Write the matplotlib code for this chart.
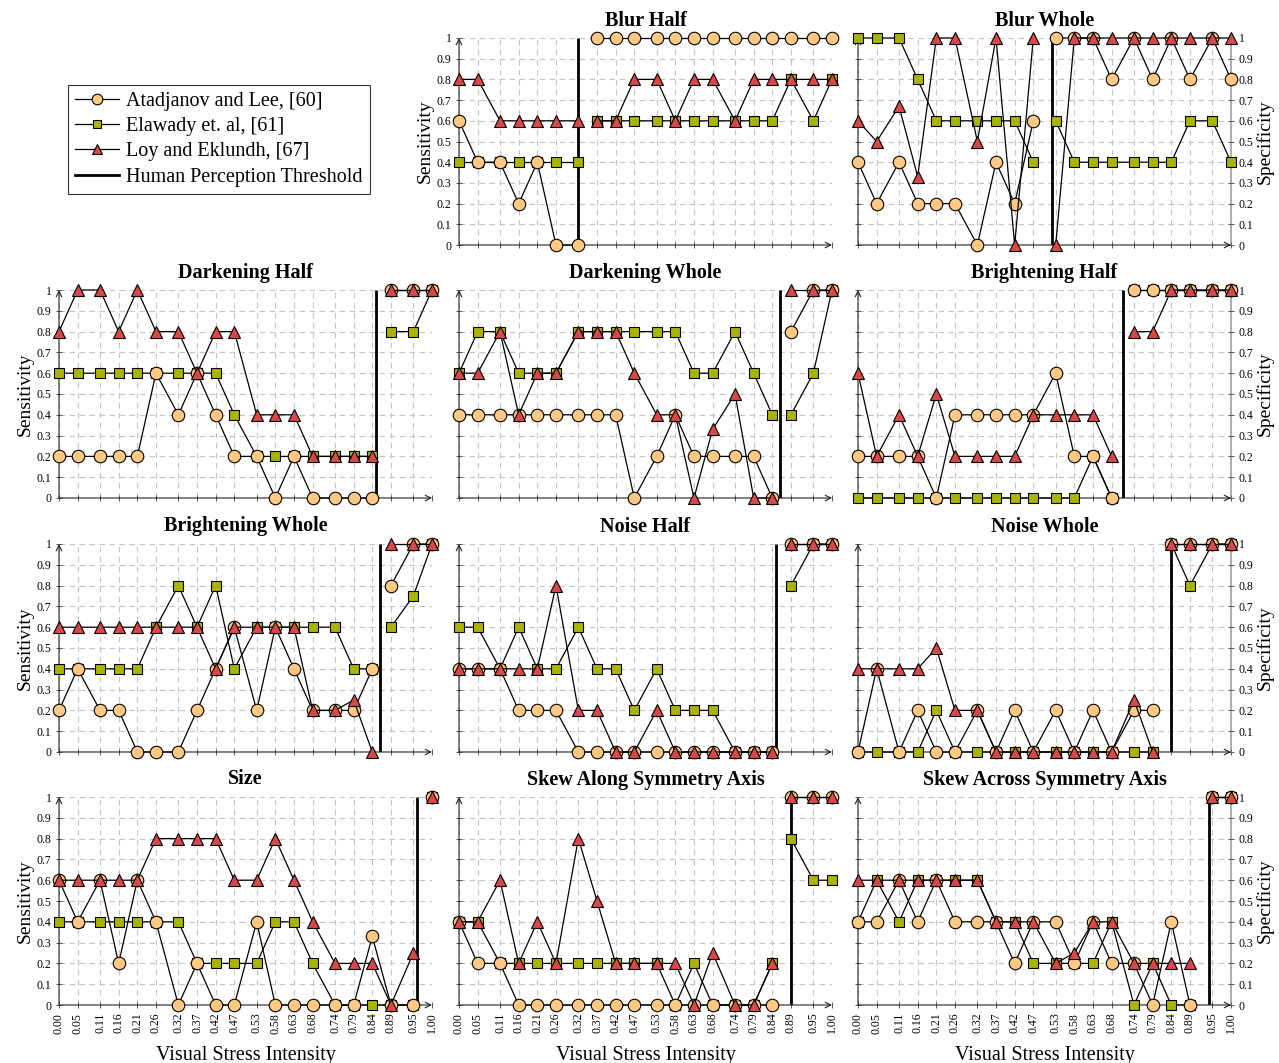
import matplotlib
matplotlib.use("Agg")
import matplotlib.pyplot as plt
from matplotlib.lines import Line2D

plt.rcParams['font.family'] = ['Liberation Serif', 'DejaVu Serif']

# stress intensities (x positions and tick labels)
intensity = [0.00, 0.05, 0.11, 0.16, 0.21, 0.26, 0.32, 0.37, 0.42, 0.47,
             0.53, 0.58, 0.63, 0.68, 0.74, 0.79, 0.84, 0.89, 0.95, 1.00]
y_ticks = [0, 0.1, 0.2, 0.3, 0.4, 0.5, 0.6, 0.7, 0.8, 0.9, 1]
y_tick_labels = ['0', '0.1', '0.2', '0.3', '0.4', '0.5', '0.6', '0.7', '0.8', '0.9', '1']

method_names = ['Atadjanov and Lee, [60]', 'Elawady et. al, [61]', 'Loy and Eklundh, [67]']

# values left of the split are sensitivity, right of it specificity
blur_half_atad = [0.6, 0.4, 0.4, 0.2, 0.4, 0, 0, 1, 1, 1, 1, 1, 1, 1, 1, 1, 1, 1, 1, 1]
blur_half_elaw = [0.4, 0.4, 0.4, 0.4, 0.4, 0.4, 0.4, 0.6, 0.6, 0.6, 0.6, 0.6, 0.6, 0.6, 0.6, 0.6, 0.6, 0.8, 0.6, 0.8]
blur_half_loy = [0.8, 0.8, 0.6, 0.6, 0.6, 0.6, 0.6, 0.6, 0.6, 0.8, 0.8, 0.6, 0.8, 0.8, 0.6, 0.8, 0.8, 0.8, 0.8, 0.8]

blur_whole_atad = [0.4, 0.2, 0.4, 0.2, 0.2, 0.2, 0, 0.4, 0.2, 0.6, 1, 1, 1, 0.8, 1, 0.8, 1, 0.8, 1, 0.8]
blur_whole_elaw = [1, 1, 1, 0.8, 0.6, 0.6, 0.6, 0.6, 0.6, 0.4, 0.6, 0.4, 0.4, 0.4, 0.4, 0.4, 0.4, 0.6, 0.6, 0.4]
blur_whole_loy = [0.6, 0.5, 0.67, 0.33, 1, 1, 0.5, 1, 0, 1, 0, 1, 1, 1, 1, 1, 1, 1, 1, 1]

dark_half_atad = [0.2, 0.2, 0.2, 0.2, 0.2, 0.6, 0.4, 0.6, 0.4, 0.2, 0.2, 0, 0.2, 0, 0, 0, 0, 1, 1, 1]
dark_half_elaw = [0.6, 0.6, 0.6, 0.6, 0.6, 0.6, 0.6, 0.6, 0.6, 0.4, 0.2, 0.2, 0.2, 0.2, 0.2, 0.2, 0.2, 0.8, 0.8, 1]
dark_half_loy = [0.8, 1, 1, 0.8, 1, 0.8, 0.8, 0.6, 0.8, 0.8, 0.4, 0.4, 0.4, 0.2, 0.2, 0.2, 0.2, 1, 1, 1]

dark_whole_atad = [0.4, 0.4, 0.4, 0.4, 0.4, 0.4, 0.4, 0.4, 0.4, 0, 0.2, 0.4, 0.2, 0.2, 0.2, 0.2, 0, 0.8, 1, 1]
dark_whole_elaw = [0.6, 0.8, 0.8, 0.6, 0.6, 0.6, 0.8, 0.8, 0.8, 0.8, 0.8, 0.8, 0.6, 0.6, 0.8, 0.6, 0.4, 0.4, 0.6, 1]
dark_whole_loy = [0.6, 0.6, 0.8, 0.4, 0.6, 0.6, 0.8, 0.8, 0.8, 0.6, 0.4, 0.4, 0, 0.33, 0.5, 0, 0, 1, 1, 1]

bright_half_atad = [0.2, 0.2, 0.2, 0.2, 0, 0.4, 0.4, 0.4, 0.4, 0.4, 0.6, 0.2, 0.2, 0, 1, 1, 1, 1, 1, 1]
bright_half_elaw = [0, 0, 0, 0, 0, 0, 0, 0, 0, 0, 0, 0, 0.2, 0, 1, 1, 1, 1, 1, 1]
bright_half_loy = [0.6, 0.2, 0.4, 0.2, 0.5, 0.2, 0.2, 0.2, 0.2, 0.4, 0.4, 0.4, 0.4, 0.2, 0.8, 0.8, 1, 1, 1, 1]

bright_whole_atad = [0.2, 0.4, 0.2, 0.2, 0, 0, 0, 0.2, 0.4, 0.6, 0.2, 0.6, 0.4, 0.2, 0.2, 0.2, 0.4, 0.8, 1, 1]
bright_whole_elaw = [0.4, 0.4, 0.4, 0.4, 0.4, 0.6, 0.8, 0.6, 0.8, 0.4, 0.6, 0.6, 0.6, 0.6, 0.6, 0.4, 0.4, 0.6, 0.75, 1]
bright_whole_loy = [0.6, 0.6, 0.6, 0.6, 0.6, 0.6, 0.6, 0.6, 0.4, 0.6, 0.6, 0.6, 0.6, 0.2, 0.2, 0.25, 0, 1, 1, 1]

noise_half_atad = [0.4, 0.4, 0.4, 0.2, 0.2, 0.2, 0, 0, 0, 0, 0, 0, 0, 0, 0, 0, 0, 1, 1, 1]
noise_half_elaw = [0.6, 0.6, 0.4, 0.6, 0.4, 0.4, 0.6, 0.4, 0.4, 0.2, 0.4, 0.2, 0.2, 0.2, 0, 0, 0, 0.8, 1, 1]
noise_half_loy = [0.4, 0.4, 0.4, 0.4, 0.4, 0.8, 0.2, 0.2, 0, 0, 0.2, 0, 0, 0, 0, 0, 0, 1, 1, 1]

noise_whole_atad = [0, 0.4, 0, 0.2, 0, 0, 0.2, 0, 0.2, 0, 0.2, 0, 0.2, 0, 0.2, 0.2, 1, 1, 1, 1]
noise_whole_elaw = [0, 0, 0, 0, 0.2, 0, 0, 0, 0, 0, 0, 0, 0, 0, 0, 0, 1, 0.8, 1, 1]
noise_whole_loy = [0.4, 0.4, 0.4, 0.4, 0.5, 0.2, 0.2, 0, 0, 0, 0, 0, 0, 0, 0.25, 0, 1, 1, 1, 1]

size_atad = [0.6, 0.4, 0.6, 0.2, 0.6, 0.4, 0, 0.2, 0, 0, 0.4, 0, 0, 0, 0, 0, 0.33, 0, 0, 1]
size_elaw = [0.4, 0.4, 0.4, 0.4, 0.4, 0.4, 0.4, 0.2, 0.2, 0.2, 0.2, 0.4, 0.4, 0.2, 0, 0, 0, 0, 0, 1]
size_loy = [0.6, 0.6, 0.6, 0.6, 0.6, 0.8, 0.8, 0.8, 0.8, 0.6, 0.6, 0.8, 0.6, 0.4, 0.2, 0.2, 0.2, 0, 0.25, 1]

skew_along_atad = [0.4, 0.2, 0.2, 0, 0, 0, 0, 0, 0, 0, 0, 0, 0, 0, 0, 0, 0, 1, 1, 1]
skew_along_elaw = [0.4, 0.4, 0.2, 0.2, 0.2, 0.2, 0.2, 0.2, 0.2, 0.2, 0.2, 0, 0.2, 0, 0, 0, 0.2, 0.8, 0.6, 0.6]
skew_along_loy = [0.4, 0.4, 0.6, 0.2, 0.4, 0.2, 0.8, 0.5, 0.2, 0.2, 0.2, 0.2, 0, 0.25, 0, 0, 0.2, 1, 1, 1]

skew_across_atad = [0.4, 0.4, 0.6, 0.4, 0.6, 0.4, 0.4, 0.4, 0.2, 0.4, 0.4, 0.2, 0.4, 0.2, 0.2, 0, 0.4, 0, 1, 1]
skew_across_elaw = [0.4, 0.6, 0.4, 0.6, 0.6, 0.6, 0.6, 0.4, 0.4, 0.2, 0.2, 0.2, 0.2, 0.4, 0, 0.2, 0, 0, 1, 1]
skew_across_loy = [0.6, 0.6, 0.6, 0.6, 0.6, 0.6, 0.6, 0.4, 0.4, 0.4, 0.2, 0.25, 0.4, 0.4, 0.2, 0.2, 0.2, 0.2, 1, 1]

# (row, col, title, series, number of sensitivity points, threshold)
panels = [
    (0, 1, 'Blur Half', (blur_half_atad, blur_half_elaw, blur_half_loy), 7, 0.32),
    (0, 2, 'Blur Whole', (blur_whole_atad, blur_whole_elaw, blur_whole_loy), 10, 0.52),
    (1, 0, 'Darkening Half', (dark_half_atad, dark_half_elaw, dark_half_loy), 17, 0.85),
    (1, 1, 'Darkening Whole', (dark_whole_atad, dark_whole_elaw, dark_whole_loy), 17, 0.86),
    (1, 2, 'Brightening Half', (bright_half_atad, bright_half_elaw, bright_half_loy), 14, 0.71),
    (2, 0, 'Brightening Whole', (bright_whole_atad, bright_whole_elaw, bright_whole_loy), 17, 0.86),
    (2, 1, 'Noise Half', (noise_half_atad, noise_half_elaw, noise_half_loy), 17, 0.85),
    (2, 2, 'Noise Whole', (noise_whole_atad, noise_whole_elaw, noise_whole_loy), 16, 0.84),
    (3, 0, 'Size', (size_atad, size_elaw, size_loy), 19, 0.96),
    (3, 1, 'Skew Along Symmetry Axis', (skew_along_atad, skew_along_elaw, skew_along_loy), 17, 0.89),
    (3, 2, 'Skew Across Symmetry Axis', (skew_across_atad, skew_across_elaw, skew_across_loy), 18, 0.94),
]

# marker styles per method: marker, face colour, size, zorder
styles = [
    ('o', '#FFC983', 9.0, 4),
    ('s', '#AAB300', 6.5, 3),
    ('^', '#D94848', 9.0, 5),
]

W, H = 1279, 1063
fig = plt.figure(figsize=(W / 100, H / 100), dpi=100)

col_px = [(59, 432), (459, 832), (858, 1231)]
row_px = [(38, 245), (290, 498), (544, 752), (797, 1005)]


def draw_panel(ax, title, series, split, thr, left_labels, right_labels, bottom_labels):
    ax.set_xlim(0, 1)
    ax.set_ylim(0, 1)
    for s in ax.spines.values():
        s.set_visible(False)

    ax.set_xticks(intensity)
    ax.set_yticks(y_ticks)
    ax.grid(True, color='#C4C4C4', linestyle=(0, (5, 4)), linewidth=0.8)
    ax.set_axisbelow(True)

    # axis lines with arrow heads
    arrow = dict(arrowstyle='->', lw=0.8, color='#222222', shrinkA=0, shrinkB=0)
    ax.annotate('', xy=(1.0, 0), xytext=(0, 0), xycoords='axes fraction', arrowprops=arrow)
    ax.annotate('', xy=(0, 1.0), xytext=(0, 0), xycoords='axes fraction', arrowprops=arrow)
    if right_labels:
        arrow_r = dict(arrow, color='#707070')
        ax.annotate('', xy=(1.0, 1.0), xytext=(1.0, 0), xycoords='axes fraction', arrowprops=arrow_r)

    ax.tick_params(axis='both', direction='inout', length=5, width=0.7, color='#555555',
                   labelsize=8.5, pad=3)
    ax.tick_params(axis='y', left=True, right=right_labels, labelleft=left_labels,
                   labelright=right_labels)
    ax.tick_params(axis='x', labelbottom=bottom_labels)
    ax.set_yticklabels(y_tick_labels)
    ax.set_xticklabels(['%.2f' % v for v in intensity], rotation=90)

    if left_labels:
        ax.set_ylabel('Sensitivity', fontsize=14, labelpad=2)
    if right_labels:
        ax.yaxis.set_label_position('right')
        ax.set_ylabel('Specificity', fontsize=14, labelpad=2)
    if bottom_labels:
        ax.set_xlabel('Visual Stress Intensity', fontsize=14.5, labelpad=9)

    ax.set_title(title, fontsize=14.5, fontweight='bold', pad=9)

    # perception threshold separates sensitivity and specificity parts
    ax.plot([thr, thr], [0, 1], color='black', lw=2.0, zorder=2, solid_capstyle='butt')

    for vals, (mk, fc, ms, z) in zip(series, styles):
        for xs, ys in ((intensity[:split], vals[:split]), (intensity[split:], vals[split:])):
            ax.plot(xs, ys, color='black', lw=0.9, marker=mk, markersize=ms,
                    markerfacecolor=fc, markeredgecolor='black', markeredgewidth=0.8,
                    zorder=z, clip_on=False)


for row, col, title, series, split, thr in panels:
    x0, x1 = col_px[col]
    y0, y1 = row_px[row]
    ax = fig.add_axes([x0 / W, 1 - y1 / H, (x1 - x0) / W, (y1 - y0) / H])
    left_labels = col == 0 or (row == 0 and col == 1)
    right_labels = col == 2
    draw_panel(ax, title, series, split, thr, left_labels, right_labels, row == 3)

handles = []
for name, (mk, fc, ms, z) in zip(method_names, styles):
    handles.append(Line2D([], [], color='black', lw=0.9, marker=mk, markersize=ms * 0.85,
                          markerfacecolor=fc, markeredgecolor='black', markeredgewidth=0.8))
handles.append(Line2D([], [], color='black', lw=2.0))
leg = fig.legend(handles, method_names + ['Human Perception Threshold'],
                 loc='upper left', bbox_to_anchor=(68 / W, 1 - 85 / H), fontsize=14.5,
                 frameon=True, fancybox=False, edgecolor='black', handlelength=2.2,
                 borderpad=0.35, labelspacing=0.3, handletextpad=0.35, borderaxespad=0)
leg.get_frame().set_linewidth(0.8)

fig.savefig('out.png', dpi=100)
